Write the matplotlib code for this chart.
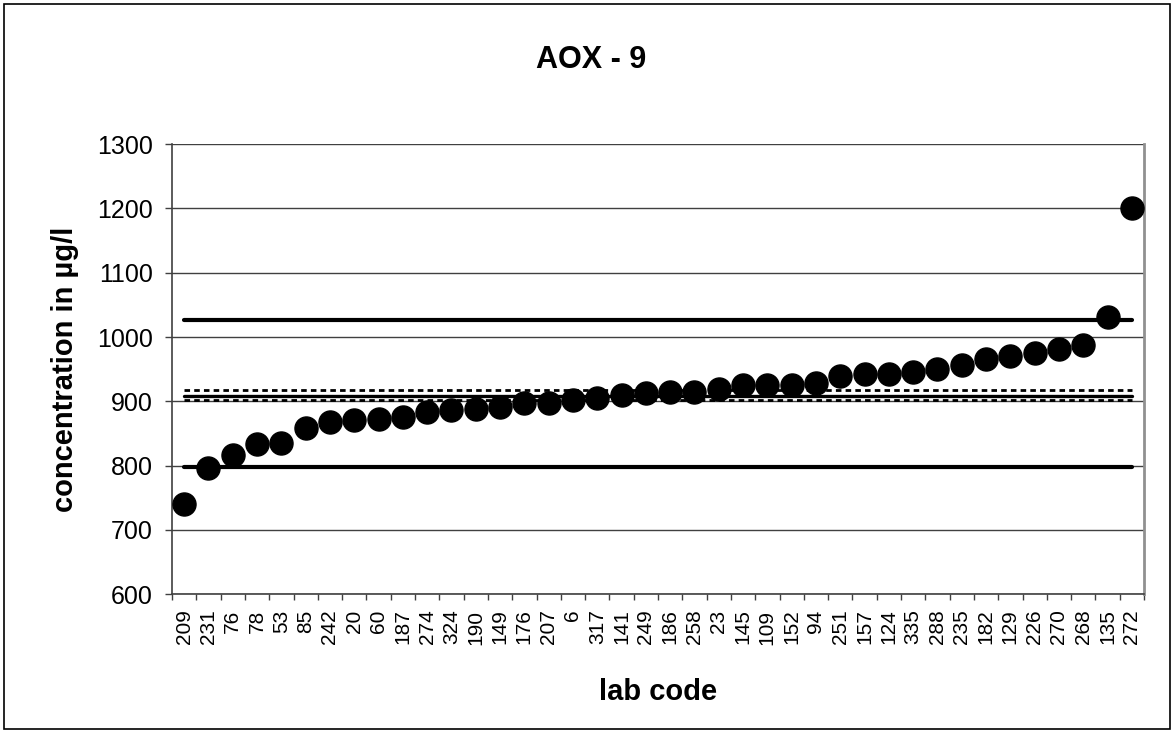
import numpy as np
import matplotlib
matplotlib.use('Agg')
import matplotlib.pyplot as plt
from matplotlib.patches import Rectangle

plt.rcParams['font.family'] = ['Liberation Sans', 'DejaVu Sans']

# lab codes and results, sorted as in the chart
labs = ['209', '231', '76', '78', '53', '85', '242', '20', '60', '187',
        '274', '324', '190', '149', '176', '207', '6', '317', '141', '249',
        '186', '258', '23', '145', '109', '152', '94', '251', '157', '124',
        '335', '288', '235', '182', '129', '226', '270', '268', '135', '272']
values = [741, 796, 817, 833, 836, 859, 868, 871, 873, 876,
          883, 886, 888, 892, 898, 898, 902, 906, 910, 913,
          914, 914, 920, 925, 926, 926, 929, 940, 942, 943,
          945, 951, 956, 966, 970, 976, 981, 987, 1031, 1200]

# reference lines: tolerance limits, assigned value, its uncertainty
upper_limit = 1026
lower_limit = 798
mean_value = 909
mean_hi = 917
mean_lo = 902

fig = plt.figure(figsize=(11.75, 7.31), dpi=100)
ax = fig.add_axes([172/1175, 1 - 594.3/731, (1144 - 172)/1175, (594.3 - 144.2)/731])

x = np.arange(len(labs))
x0, x1 = x[0], x[-1]

ax.plot([x0, x1], [upper_limit, upper_limit], color='black', lw=3, solid_capstyle='round', zorder=3)
ax.plot([x0, x1], [lower_limit, lower_limit], color='black', lw=3, solid_capstyle='round', zorder=3)
ax.plot([x0, x1], [mean_value, mean_value], color='black', lw=2.4, solid_capstyle='round', zorder=3)
ax.plot([x0, x1], [mean_hi, mean_hi], color='black', lw=2, linestyle=(0, (2, 1.5)), zorder=3)
ax.plot([x0, x1], [mean_lo, mean_lo], color='black', lw=2, linestyle=(0, (2, 1.5)), zorder=3)

ax.plot(x, values, 'o', color='black', markersize=16.6, zorder=4)

ax.set_xlim(-0.5, len(labs) - 0.5)
ax.set_ylim(600, 1300)
ax.set_yticks(np.arange(600, 1301, 100))
ax.yaxis.grid(True, color='#404040', lw=1.0)
ax.set_axisbelow(True)

ax.set_xticks(x)
ax.set_xticklabels(labs, rotation=90, fontsize=15)
ax.set_xticks(np.arange(-0.5, len(labs), 1), minor=True)
ax.tick_params(axis='x', which='major', length=0, pad=11)
ax.tick_params(axis='x', which='minor', length=4, width=1, color='#404040', direction='out')
ax.tick_params(axis='y', labelsize=18, length=5, width=1, color='#404040', pad=9, direction='out')

for s in ['left', 'bottom']:
    ax.spines[s].set_color('#404040')
    ax.spines[s].set_linewidth(1.2)
ax.spines['right'].set_color('#909090')
ax.spines['right'].set_linewidth(2)
ax.spines['top'].set_visible(False)

ax.set_ylabel('concentration in µg/l', fontsize=21, fontweight='bold', labelpad=13)
ax.set_xlabel('lab code', fontsize=21, fontweight='bold', labelpad=24)
fig.text(591/1175, 1 - 60/731, 'AOX - 9', fontsize=22, fontweight='bold', ha='center', va='center')

# outer chart frame
fig.patches.append(Rectangle((4/1175, 2/731), 1166/1175, 725/731, transform=fig.transFigure,
                             fill=False, edgecolor='black', lw=1.2))

plt.savefig('out.png', dpi=100)
